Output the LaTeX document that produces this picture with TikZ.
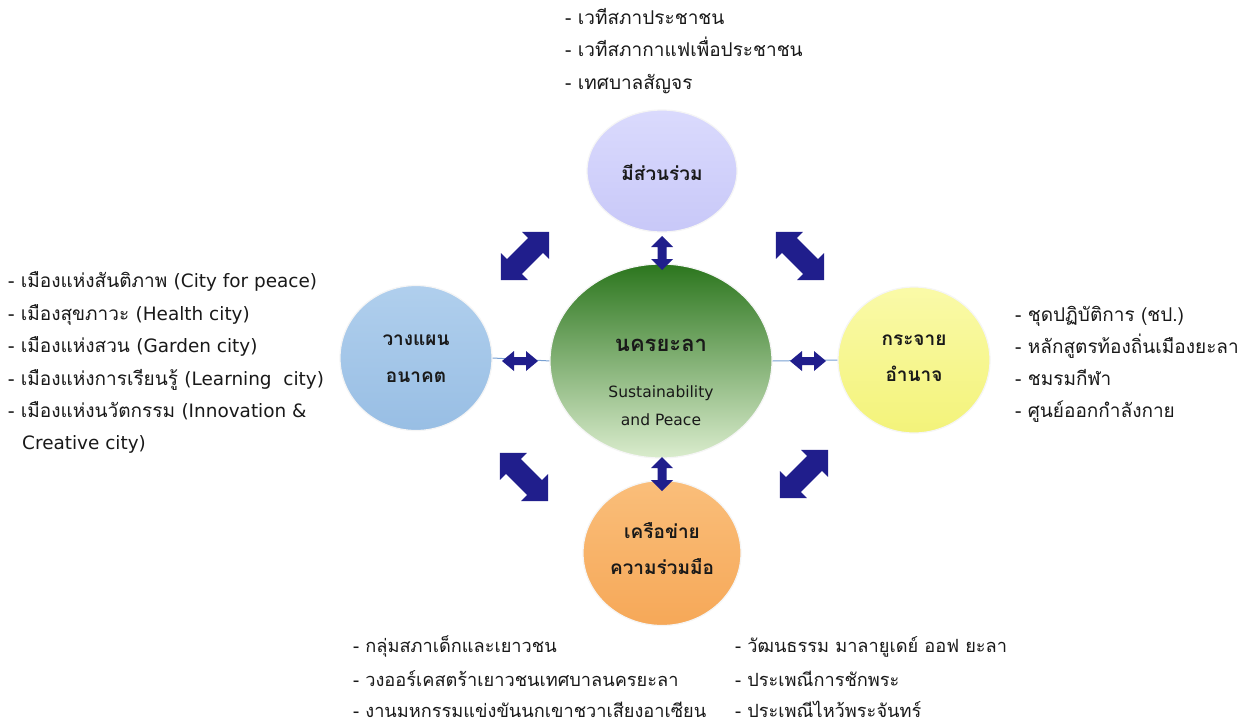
\documentclass[tikz,border=0pt]{standalone}
\usepackage{fontspec}
\setmainfont[Script=Thai]{Loma}
\newfontfamily\latfont[Scale=0.97]{DejaVu Sans}
\newcommand\lat[1]{{\latfont #1}}
\usetikzlibrary{shapes.geometric,calc}
\definecolor{navy}{RGB}{32,30,140}
\definecolor{txt}{RGB}{25,25,25}
\definecolor{linkblue}{RGB}{120,160,210}
\definecolor{hubtop}{RGB}{44,118,30}
\definecolor{hubmid}{RGB}{125,172,88}
\definecolor{hubbot}{RGB}{218,236,205}
\definecolor{lavtop}{RGB}{218,218,253}
\definecolor{lavbot}{RGB}{200,200,248}
\definecolor{bluetop}{RGB}{176,207,237}
\definecolor{bluebot}{RGB}{152,190,228}
\definecolor{yeltop}{RGB}{250,250,168}
\definecolor{yelbot}{RGB}{243,243,122}
\definecolor{orgtop}{RGB}{250,190,122}
\definecolor{orgbot}{RGB}{246,168,88}
\newcommand\dblarrow[6]{% #1 position, #2 angle, #3 length, #4 shaft half-width, #5 head half-width, #6 head length
  \fill[blockarrow, shift={#1}, rotate=#2]
    ({-#3/2},0) -- ({-#3/2+#6},#5) -- ({-#3/2+#6},#4) -- ({#3/2-#6},#4) -- ({#3/2-#6},#5) -- ({#3/2},0)
    -- ({#3/2-#6},-#5) -- ({#3/2-#6},-#4) -- ({-#3/2+#6},-#4) -- ({-#3/2+#6},-#5) -- cycle;}
\tikzset{
  bubble/.style={ellipse, inner sep=0pt, draw=white!92!gray, line width=1.2pt},
  blockarrow/.style={fill=navy},
  link/.style={draw=linkblue, line width=1pt},
  item/.style={anchor=west, inner sep=0pt, text=txt, font=\fontsize{19}{21}\selectfont, text height=13pt, text depth=5pt},
  itemsm/.style={item, font=\fontsize{18.2}{20}\selectfont},
  blabel/.style={inner sep=0pt, text=txt, font=\bfseries\fontsize{19}{21}\selectfont},
  hubsub/.style={inner sep=0pt, text=txt, font=\latfont\fontsize{16}{18}\selectfont},
}
\begin{document}
\begin{tikzpicture}[x=1pt,y=-1pt]
\useasboundingbox (0,0) rectangle (1252,724);
\fill[white] (0,0) rectangle (1252,724);

% circles
\node[bubble, minimum width=150pt, minimum height=122pt, top color=lavtop, bottom color=lavbot] (part) at (662,171) {};
\node[bubble, minimum width=152pt, minimum height=145pt, top color=bluetop, bottom color=bluebot] (plan) at (416,358) {};
\node[bubble, minimum width=152pt, minimum height=146pt, top color=yeltop, bottom color=yelbot] (dist) at (914,360) {};
\node[bubble, minimum width=158pt, minimum height=145pt, top color=orgtop, bottom color=orgbot] (net) at (662,553) {};

\draw[link] (plan.east) -- (551,361);
\draw[link] (dist.west) -- (772,361);

\node[bubble, minimum width=222pt, minimum height=194pt, top color=hubtop, middle color=hubmid, bottom color=hubbot] (hub) at (661,361) {};

% circle labels
\node[blabel] (partT) at (662,172) {มีส่วนร่วม};
\node[blabel] (planA) at (416,340) {วางแผน};
\node[blabel] (planB) at (416,377) {อนาคต};
\node[blabel] (distA) at (914,340) {กระจาย};
\node[blabel] (distB) at (914,374) {อำนาจ};
\node[blabel] (netA) at (662,531) {เครือข่าย};
\node[blabel] (netB) at (662,567) {ความร่วมมือ};
\node[blabel, font=\bfseries\fontsize{22}{24}\selectfont] (hubA) at (661,345) {นครยะลา};
\node[hubsub] (hubB) at (661,393) {Sustainability};
\node[hubsub] (hubC) at (661,420) {and Peace};

% block arrows
\dblarrow{(662,253)}{90}{34}{4.5}{11}{11}
\dblarrow{(662,474)}{90}{34}{4.5}{11}{11}
\dblarrow{(520,361)}{0}{36}{4}{10}{12}
\dblarrow{(808,361)}{0}{36}{4}{10}{12}
\dblarrow{(525,256)}{45}{68}{10.5}{19}{19}
\dblarrow{(800,256)}{-45}{68}{10.5}{19}{19}
\dblarrow{(524,477)}{-45}{68}{10.5}{19}{19}
\dblarrow{(804,474)}{45}{68}{10.5}{19}{19}

% top list
\node[item] (t1) at (565,20) {- เวทีสภาประชาชน};
\node[item] (t2) at (565,52) {- เวทีสภากาแฟเพื่อประชาชน};
\node[item] (t3) at (565,85) {- เทศบาลสัญจร};

% left list
\node[item] (l1) at (8,283) {- เมืองแห่งสันติภาพ \lat{(City for peace)}};
\node[item] (l2) at (8,316) {- เมืองสุขภาวะ \lat{(Health city)}};
\node[item] (l3) at (8,348) {- เมืองแห่งสวน \lat{(Garden city)}};
\node[item] (l4) at (8,381) {- เมืองแห่งการเรียนรู้ \lat{(Learning\ \ city)}};
\node[item] (l5) at (8,413) {- เมืองแห่งนวัตกรรม \lat{(Innovation \&}};
\node[item] (l6) at (22,445) {\lat{Creative city)}};

% right list
\node[item] (r1) at (1015,317) {- ชุดปฏิบัติการ (ชป.)};
\node[item] (r2) at (1015,349) {- หลักสูตรท้องถิ่นเมืองยะลา};
\node[item] (r3) at (1015,381) {- ชมรมกีฬา};
\node[item] (r4) at (1015,413) {- ศูนย์ออกกำลังกาย};

% bottom lists
\node[itemsm] (b1) at (353,648) {- กลุ่มสภาเด็กและเยาวชน};
\node[itemsm] (b2) at (353,682) {- วงออร์เคสตร้าเยาวชนเทศบาลนครยะลา};
\node[itemsm] (b3) at (353,713) {- งานมหกรรมแข่งขันนกเขาชวาเสียงอาเซียน};
\node[itemsm] (c1) at (735,648) {- วัฒนธรรม มาลายูเดย์ ออฟ ยะลา};
\node[itemsm] (c2) at (735,682) {- ประเพณีการชักพระ};
\node[itemsm] (c3) at (735,713) {- ประเพณีไหว้พระจันทร์};
\end{tikzpicture}
\end{document}
